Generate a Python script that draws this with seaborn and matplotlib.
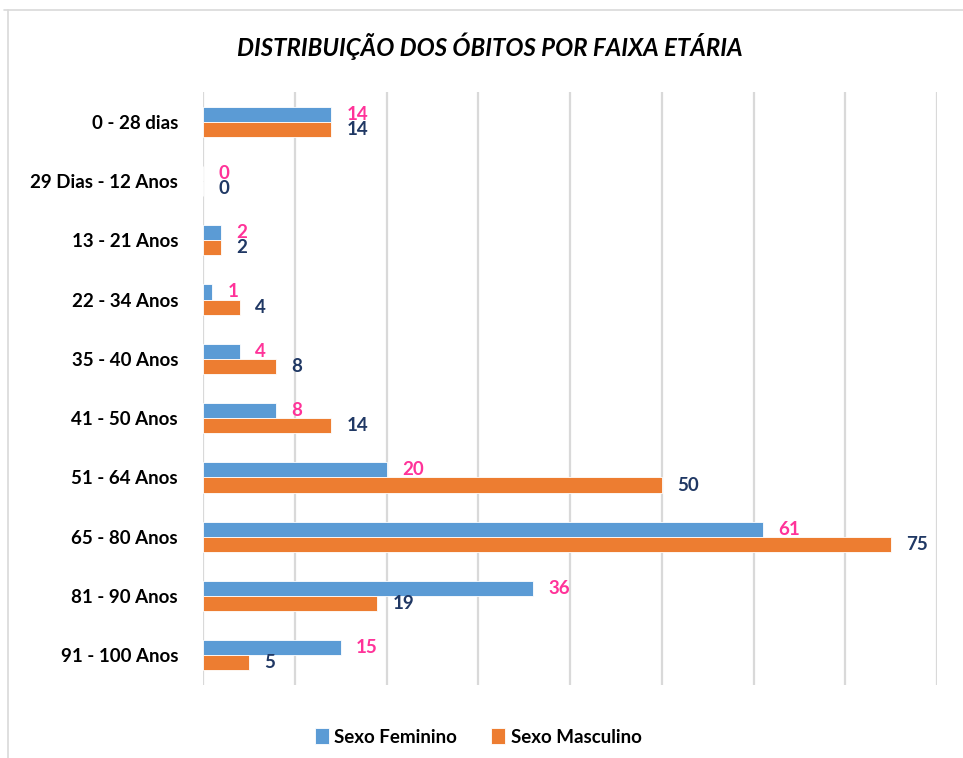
import pandas as pd
import matplotlib.pyplot as plt
import seaborn as sns
from matplotlib.lines import Line2D

# ==============================================================================
# DATA
# ==============================================================================
faixas = ['0 - 28 dias', '29 Dias - 12 Anos', '13 - 21 Anos', '22 - 34 Anos',
          '35 - 40 Anos', '41 - 50 Anos', '51 - 64 Anos', '65 - 80 Anos',
          '81 - 90 Anos', '91 - 100 Anos']
feminino = [14, 0, 2, 1, 4, 8, 20, 61, 36, 15]
masculino = [14, 0, 2, 4, 8, 14, 50, 75, 19, 5]
series = ['Sexo Feminino', 'Sexo Masculino']

TITLE = 'DISTRIBUIÇÃO DOS ÓBITOS POR FAIXA ETÁRIA'
BLUE, ORANGE = '#5B9BD5', '#ED7D31'
PINK, NAVY = '#FF3399', '#203864'
GRID = '#D9D9D9'

df = pd.DataFrame({
    'Faixa': faixas * 2,
    'Obitos': feminino + masculino,
    'Sexo': [series[0]] * len(faixas) + [series[1]] * len(faixas),
})

# ==============================================================================
# PLOT
# ==============================================================================
sns.set_theme(style='white')
plt.rcParams['font.family'] = ['Lato', 'DejaVu Sans']
plt.rcParams['font.weight'] = 'bold'

fig = plt.figure(figsize=(9.63, 7.58), dpi=100)
ax = fig.add_axes([203 / 963, 1 - 685 / 758, (937 - 203) / 963, (685 - 92) / 758])

sns.barplot(data=df, y='Faixa', x='Obitos', hue='Sexo', orient='h',
            palette=[BLUE, ORANGE], saturation=1, width=0.51, gap=0, ax=ax,
            edgecolor='white', linewidth=0.6)

ax.set_xlim(0, 80)
ax.set_ylim(9.5, -0.5)
ax.set_xticks(range(0, 81, 10))
ax.set_xticklabels([])
ax.xaxis.grid(True, color=GRID, linewidth=1.6)
ax.yaxis.grid(False)
ax.tick_params(axis='both', length=0)
ax.tick_params(axis='y', labelsize=13.5, pad=18)
for lbl in ax.get_yticklabels():
    lbl.set_fontweight('bold')
    lbl.set_color('black')
for s in ax.spines.values():
    s.set_visible(False)
ax.set_xlabel('')
ax.set_ylabel('')

# value labels
for cont, col in zip(ax.containers, [PINK, NAVY]):
    ax.bar_label(cont, padding=11, color=col, fontsize=13.5, fontweight='bold')

# legend below
handles, labels = ax.get_legend_handles_labels()
ax.get_legend().remove()
leg = fig.legend(handles, labels, loc='center', bbox_to_anchor=(478 / 963, 1 - 737 / 758),
                 ncol=2, frameon=False, handlelength=0.75, handleheight=0.9,
                 handletextpad=0.3, columnspacing=1.8,
                 prop={'family': ['Lato', 'DejaVu Sans'], 'weight': 'bold', 'size': 13.5})
for t in leg.get_texts():
    t.set_color('black')

fig.text(490 / 963, 1 - 46 / 758, TITLE, ha='center', va='center',
         fontsize=17.3, fontweight='bold', fontstyle='italic', color='black')

# chart frame (left and top edges only visible)
fig.add_artist(Line2D([8 / 963, 8 / 963], [0, 1 - 10 / 758], color=GRID, lw=1.2))
fig.add_artist(Line2D([4 / 963, 1], [1 - 10 / 758, 1 - 10 / 758], color=GRID, lw=1.2))

fig.savefig('out.png', dpi=100)
